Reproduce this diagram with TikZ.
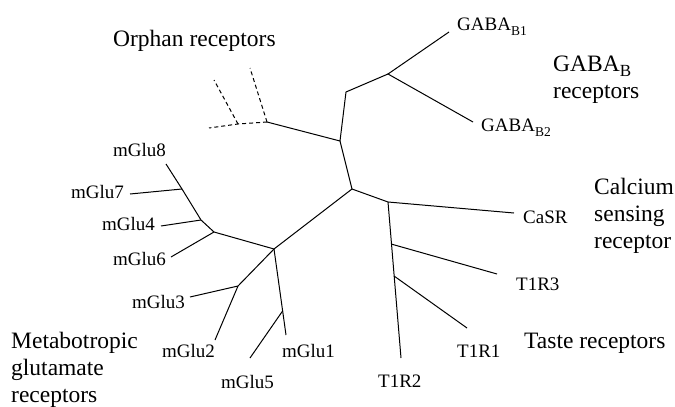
\documentclass[tikz,border=0pt]{standalone}
\usepackage{fontspec}
\setmainfont{Liberation Serif}
\newfontfamily\grpfont{Liberation Serif}
\usetikzlibrary{calc}
\newcommand\mysubs[3]{\raisebox{-#2}{\fontsize{#3}{#3}\selectfont #1}}
\begin{document}
\begin{tikzpicture}[x=1pt,y=-1pt,
  br/.style={line width=1pt},
  orph/.style={line width=1pt, dash pattern=on 4pt off 3pt},
  lab/.style={anchor=base west, inner sep=0pt, font=\rmfamily\fontsize{19}{22}\selectfont},
  big/.style={anchor=base west, inner sep=0pt, align=left, font=\grpfont\fontsize{23.5}{27}\selectfont}]
\useasboundingbox (0,0) rectangle (675,407);
% junctions
\coordinate (GJ) at (388,74);
\coordinate (A) at (346,92);
\coordinate (B) at (340,141);
\coordinate (OJ) at (267,122);
\coordinate (OJ2) at (238,124);
\coordinate (C) at (352,189);
\coordinate (CJ) at (388,202);
\coordinate (MJ) at (274,249);
\coordinate (M23J) at (238,286);
\coordinate (M46J) at (214,232);
\coordinate (M4J) at (201,220);
\coordinate (M7J) at (182,189);
% tips
\coordinate (tB1) at (449,32);
\coordinate (tB2) at (473,122);
\coordinate (tO1) at (250,68);
\coordinate (tO2) at (214,80);
\coordinate (tO3) at (209,128);
\coordinate (tCaSR) at (514,213);
\coordinate (tT2) at (401,358);
\coordinate (tT3) at (497,274);
\coordinate (tT1) at (467,328);
\coordinate (tM1) at (286,335);
\coordinate (tM5) at (250,358);
\coordinate (tM3) at (190,297);
\coordinate (tM2) at (215,340);
\coordinate (tM6) at (171,257);
\coordinate (tM4) at (161,226);
\coordinate (tM7) at (130,194);
\coordinate (tM8) at (166,164);
\coordinate (T3J) at ($(CJ)!0.27!(tT2)$);
\coordinate (T1J) at ($(CJ)!0.475!(tT2)$);
\coordinate (M5J) at ($(MJ)!0.72!(tM1)$);
% branches
\draw[br] (tB1) -- (GJ) -- (tB2);
\draw[br] (GJ) -- (A) -- (B) -- (OJ);
\draw[br] (B) -- (C) -- (MJ);
\draw[br] (C) -- (CJ) -- (tCaSR);
\draw[br] (CJ) -- (tT2);
\draw[br] (T3J) -- (tT3);
\draw[br] (T1J) -- (tT1);
\draw[br] (MJ) -- (tM1);
\draw[br] (M5J) -- (tM5);
\draw[br] (MJ) -- (M23J) -- (tM3);
\draw[br] (M23J) -- (tM2);
\draw[br] (MJ) -- (M46J) -- (tM6);
\draw[br] (M46J) -- (M4J) -- (M7J) -- (tM8);
\draw[br] (M4J) -- (tM4);
\draw[br] (M7J) -- (tM7);
\draw[orph] (OJ) -- (tO1);
\draw[orph] (OJ) -- (OJ2) -- (tO3);
\draw[orph] (OJ2) -- (tO2);
% leaf labels
\node[lab] (lB1) at (457,30) {GABA\mysubs{B1}{5pt}{13.5}};
\node[lab] (lB2) at (481,131) {GABA\mysubs{B2}{5pt}{13.5}};
\node[lab] (lCaSR) at (523,223) {CaSR};
\node[lab] (lT3) at (516,290) {T1R3};
\node[lab] (lT1) at (457,357) {T1R1};
\node[lab] (lT2) at (378,387) {T1R2};
\node[lab] (lM1) at (282,357) {mGlu1};
\node[lab] (lM5) at (221,388) {mGlu5};
\node[lab] (lM2) at (162,357) {mGlu2};
\node[lab] (lM3) at (132,308) {mGlu3};
\node[lab] (lM6) at (113,265) {mGlu6};
\node[lab] (lM4) at (102,230) {mGlu4};
\node[lab] (lM7) at (71,198) {mGlu7};
\node[lab] (lM8) at (113,156) {mGlu8};
% group labels (multi-line nodes anchored at the last line's baseline)
\node[big] (gOrph) at (113,46) {Orphan receptors};
\node[big] (gGABA) at (553,98) {GABA\mysubs{B}{5pt}{17}\\receptors};
\node[big] (gCa) at (594,248) {Calcium\\sensing\\receptor};
\node[big] (gTaste) at (524,348) {Taste receptors};
\node[big] (gMet) at (11,402) {Metabotropic\\glutamate\\receptors};
\end{tikzpicture}
\end{document}
